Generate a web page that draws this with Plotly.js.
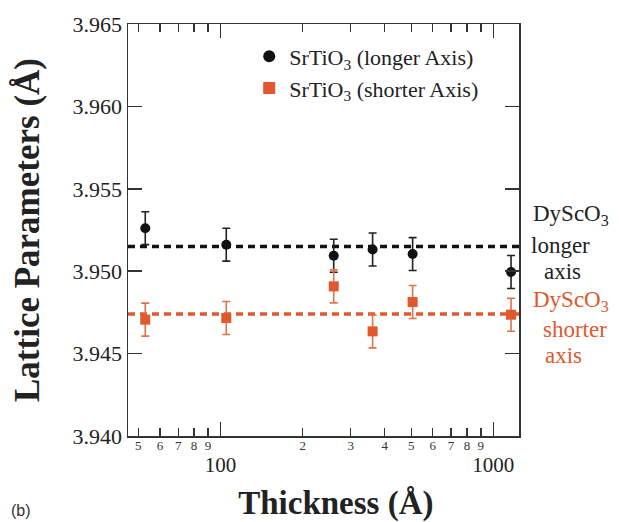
<!DOCTYPE html>
<html>
<head>
<meta charset="utf-8">
<script src="https://cdn.plot.ly/plotly-3.0.1.min.js"></script>
<style>html,body{margin:0;padding:0;background:#fff;}#chart{width:619px;height:522px;}</style>
</head>
<body>
<div id="chart"></div>
<script>
// ---- data ----
const thickness = [53, 105, 260, 361, 506, 1161];
const longerAxis = [3.95261, 3.95161, 3.95094, 3.95132, 3.95104, 3.94995];
const longerErr = [0.0010, 0.0010, 0.0010, 0.0010, 0.0010, 0.0010];
const shorterAxis = [3.94706, 3.94716, 3.94908, 3.94635, 3.94813, 3.94736];
const shorterErr = [0.0010, 0.0010, 0.0010, 0.0010, 0.0010, 0.0010];
const dyscoLonger = 3.9515;
const dyscoShorter = 3.9474;
const minorTickVals = [50, 60, 70, 80, 90, 200, 300, 400, 500, 600, 700, 800, 900];
const minorTickText = ['5', '6', '7', '8', '9', '2', '3', '4', '5', '6', '7', '8', '9'];
const majorTickVals = [100, 1000];
const majorTickText = ['100', '1000'];
const yTickVals = [3.940, 3.945, 3.950, 3.955, 3.960, 3.965];

const SERIF = '"Liberation Serif", "Times New Roman", Times, serif';
const ORANGE = '#e0582b';
const ORANGE_ERR = '#e2704a';
const FRAME = '#333333';
const xRange = [1.661, 3.094];
const NB = '\u00a0';

const traces = [
  {
    x: thickness, y: longerAxis, type: 'scatter', mode: 'markers',
    name: 'SrTiO<sub>3</sub> (longer Axis)', legendgroup: 'a',
    marker: {symbol: 'circle', size: 10, color: '#111111'},
    error_y: {type: 'data', array: longerErr, visible: true, color: '#222222', thickness: 1.6, width: 4},
    xaxis: 'x', yaxis: 'y'
  },
  {
    x: thickness, y: shorterAxis, type: 'scatter', mode: 'markers',
    name: 'SrTiO<sub>3</sub> (shorter Axis)', legendgroup: 'b',
    marker: {symbol: 'square', size: 10, color: ORANGE},
    error_y: {type: 'data', array: shorterErr, visible: true, color: ORANGE_ERR, thickness: 1.6, width: 4},
    xaxis: 'x2', yaxis: 'y'
  }
];

function sideLabel(text, x, y, color) {
  return {xref: 'paper', yref: 'paper', x: x, y: y, xanchor: 'center', yanchor: 'middle',
          text: text, showarrow: false, font: {family: SERIF, size: 23, color: color}};
}

const layout = {
  width: 619, height: 522,
  margin: {l: 128, r: 100, t: 24, b: 86},
  paper_bgcolor: '#ffffff', plot_bgcolor: '#ffffff',
  font: {family: SERIF, color: '#222222'},
  showlegend: true,
  legend: {
    x: 0.31, y: 0.972, xanchor: 'left', yanchor: 'top',
    bgcolor: 'rgba(0,0,0,0)', borderwidth: 0,
    traceorder: 'grouped', tracegroupgap: 0,
    font: {family: SERIF, size: 22, color: '#222222'},
    itemsizing: 'constant'
  },
  xaxis: {
    type: 'log', range: xRange,
    tickmode: 'array', tickvals: majorTickVals, ticktext: majorTickText,
    ticks: 'inside', ticklen: 14, tickwidth: 1.5, tickcolor: FRAME,
    showline: true, linecolor: FRAME, linewidth: 1.5, mirror: 'ticks',
    showgrid: false, zeroline: false,
    tickfont: {family: SERIF, size: 21, color: '#222222'},
    ticklabelstandoff: 9,
    title: {text: '<b>' + NB + NB + NB + 'Thickness (Å)</b>', font: {family: SERIF, size: 33, color: '#222222'}, standoff: 19},
    automargin: false
  },
  xaxis2: {
    type: 'log', range: xRange, overlaying: 'x', anchor: 'y', side: 'bottom',
    tickmode: 'array', tickvals: minorTickVals, ticktext: minorTickText,
    ticks: 'inside', ticklen: 8, tickwidth: 1.3, tickcolor: FRAME,
    showline: false, mirror: 'ticks',
    showgrid: false, zeroline: false,
    tickfont: {family: SERIF, size: 13, color: '#333333'},
    automargin: false
  },
  yaxis: {
    range: [3.940, 3.965],
    tickmode: 'array', tickvals: yTickVals, tickformat: '.3f',
    ticks: 'inside', ticklen: 14, tickwidth: 1.5, tickcolor: FRAME,
    showline: true, linecolor: FRAME, linewidth: 1.5, mirror: 'ticks',
    showgrid: false, zeroline: false,
    tickfont: {family: SERIF, size: 22, color: '#222222'},
    title: {text: '<b>Lattice Parameters (Å)</b>', font: {family: SERIF, size: 35, color: '#222222'}, standoff: 22},
    automargin: false
  },
  shapes: [
    {type: 'line', xref: 'paper', yref: 'y', x0: 0, x1: 1, y0: dyscoLonger, y1: dyscoLonger,
     line: {color: '#111111', width: 3.5, dash: '7px,5px'}, layer: 'below'},
    {type: 'line', xref: 'paper', yref: 'y', x0: 0, x1: 1, y0: dyscoShorter, y1: dyscoShorter,
     line: {color: ORANGE, width: 3.5, dash: '7px,5px'}, layer: 'below'}
  ],
  annotations: [
    sideLabel('DyScO<sub>3</sub>', 1.133, 0.536, '#222222'),
    sideLabel('longer', 1.107, 0.463, '#222222'),
    sideLabel('axis', 1.110, 0.400, '#222222'),
    sideLabel('DyScO<sub>3</sub>', 1.133, 0.328, ORANGE),
    sideLabel('shorter', 1.143, 0.258, ORANGE),
    sideLabel('axis', 1.113, 0.195, ORANGE),
    {xref: 'paper', yref: 'paper', x: -0.305, y: -0.18, xanchor: 'left', yanchor: 'middle', text: '(b)', showarrow: false, font: {family: '"Liberation Sans", Arial, sans-serif', size: 16, color: '#333333'}}
  ]
};

Plotly.newPlot('chart', traces, layout, {displayModeBar: false, staticPlot: true});
</script>
</body>
</html>
